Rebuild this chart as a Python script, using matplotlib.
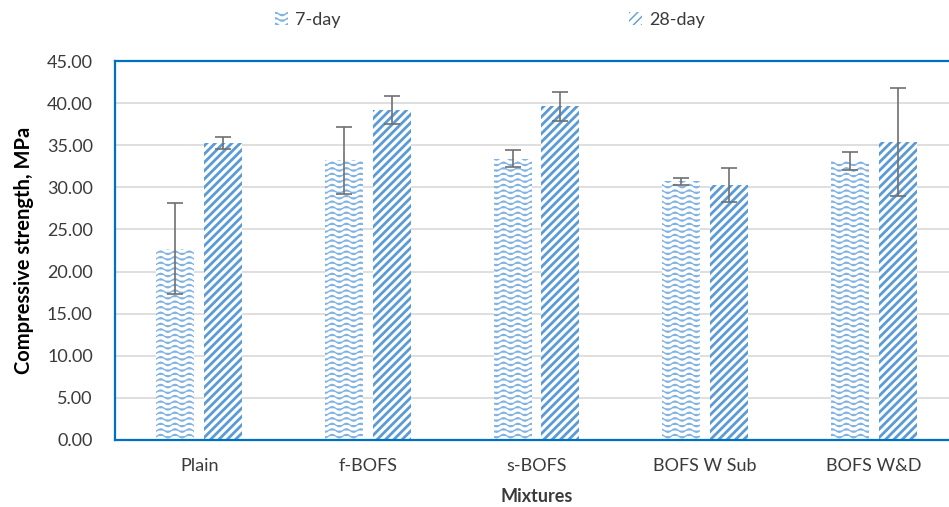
import warnings
import numpy as np
import matplotlib
matplotlib.use('Agg')
import matplotlib.pyplot as plt
import matplotlib.hatch as mhatch
from matplotlib.path import Path

warnings.filterwarnings('ignore')

# Data
mixtures = ['Plain', 'f-BOFS', 's-BOFS', 'BOFS W Sub', 'BOFS W&D']
day7 = [22.7, 33.2, 33.4, 30.7, 33.1]
day7_err = [5.4, 4.0, 1.0, 0.4, 1.1]
day28 = [35.3, 39.2, 39.6, 30.3, 35.4]
day28_err = [0.7, 1.7, 1.7, 2.05, 6.4]
yticks = np.arange(0, 50, 5)


# Excel-like "wave" hatch, triggered by '~'
class WaveHatch(mhatch.HatchPatternBase):
    n_cycles = 7
    pts = n_cycles * 8 + 1

    def __init__(self, hatch, density):
        self.num_rows = int(hatch.count('~') * density)
        self.num_vertices = self.num_rows * self.pts

    def set_vertices_and_codes(self, vertices, codes):
        steps, size = np.linspace(0.0, 1.0, self.num_rows, False, retstep=True)
        steps += size / 2.
        x = np.linspace(0.0, 1.0, self.pts)
        wave = 0.32 * size * np.sin(2 * np.pi * self.n_cycles * x)
        for i, s in enumerate(steps):
            sl = slice(i * self.pts, (i + 1) * self.pts)
            vertices[sl, 0] = x
            vertices[sl, 1] = s + wave
            codes[sl] = Path.LINETO
            codes[i * self.pts] = Path.MOVETO


mhatch._hatch_types.append(WaveHatch)

plt.rcParams['font.family'] = ['Lato', 'DejaVu Sans']
blue = '#5b9bd5'
light_blue = '#80b2e2'
txt = '#3a3a3a'
fs = 13

fig = plt.figure(figsize=(9.49, 5.07), dpi=100)
ax = fig.add_axes([115 / 949, 67 / 507, 843 / 949, 379 / 507])

x = np.arange(len(mixtures))
w = 0.225
off = 0.142

b1 = ax.bar(x - off, day7, w, color='white', edgecolor=light_blue, linewidth=0,
            hatch='~~~', label='7-day', zorder=2)
b2 = ax.bar(x + off, day28, w, color='white', edgecolor=blue, linewidth=0,
            hatch='////', label='28-day', zorder=2)
for p in b1:
    if hasattr(p, 'set_hatch_linewidth'):
        p.set_hatch_linewidth(0.9)
for p in b2:
    if hasattr(p, 'set_hatch_linewidth'):
        p.set_hatch_linewidth(2.0)

ax.errorbar(x - off, day7, yerr=day7_err, fmt='none', ecolor='#707070',
            elinewidth=1.2, capsize=6, capthick=1.2, zorder=3)
ax.errorbar(x + off, day28, yerr=day28_err, fmt='none', ecolor='#707070',
            elinewidth=1.2, capsize=6, capthick=1.2, zorder=3)

ax.set_xlim(-0.5, 4.5)
ax.set_ylim(0, 45)
ax.set_yticks(yticks)
ax.set_yticklabels([f'{v:.2f}' for v in yticks])
ax.set_xticks(x)
ax.set_xticklabels(mixtures)
ax.tick_params(length=0, labelsize=fs, labelcolor=txt)
ax.tick_params(axis='y', pad=16)
ax.tick_params(axis='x', pad=13)
ax.grid(axis='y', color='#d9d9d9', linewidth=1.2, zorder=0)
ax.set_axisbelow(True)
for s in ax.spines.values():
    s.set_color('#0070c0')
    s.set_linewidth(1.6)

ax.set_ylabel('Compressive strength, MPa', fontsize=14.5, fontweight='bold',
              color='black', labelpad=9)
ax.set_xlabel('Mixtures', fontsize=fs, fontweight='bold', color=txt,
              labelpad=10)

fig.legend(handles=[b1, b2], loc='center', bbox_to_anchor=(490 / 949, 1 - 20 / 507),
           ncol=2, frameon=False, fontsize=fs, handlelength=0.7, handleheight=0.7,
           handletextpad=0.4, columnspacing=16.0, labelcolor=txt)

fig.savefig('out.png', dpi=100)
